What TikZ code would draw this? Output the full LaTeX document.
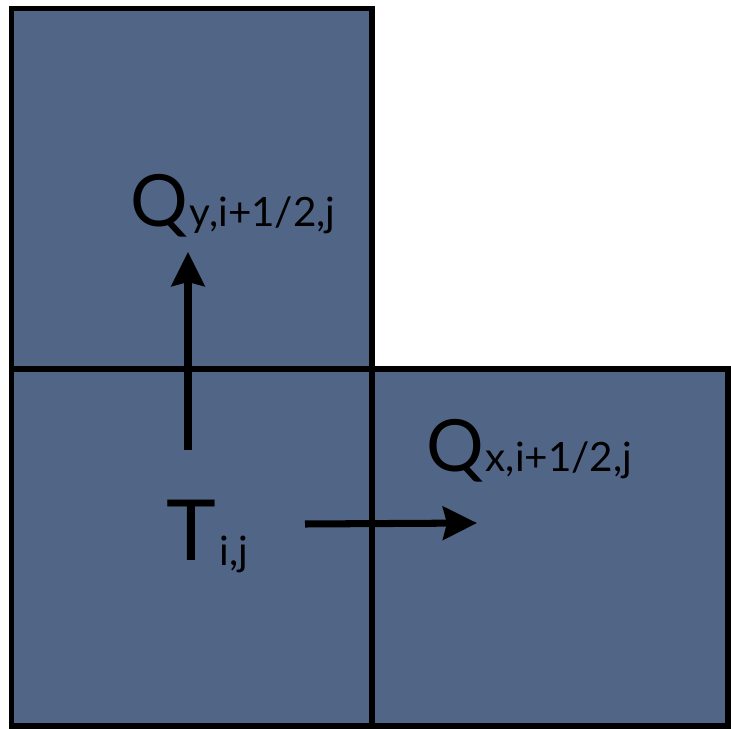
\documentclass[tikz,border=0pt]{standalone}
\usepackage{fontspec}
\setmainfont{Lato}
\usetikzlibrary{arrows.meta, positioning}
\definecolor{cellbg}{HTML}{516686}
\newcommand{\subsz}{\fontsize{23}{26}\selectfont}
\tikzset{
    cell/.style={
        draw=black, fill=cellbg, line width=2.9pt
    },
    label/.style={
        inner sep=0pt, anchor=base west, font=\fontsize{41}{45}\selectfont
    },
    flux/.style={
        -{Stealth[length=0.68cm, width=0.66cm, inset=0.08cm]}, line width=4pt
    }
}

\begin{document}
\begin{tikzpicture}[x=0.02cm, y=0.02cm]

    \useasboundingbox (0,0) rectangle (731,728);

    % grid cells
    \draw[cell] (11.5,359) rectangle (372,719.5);
    \draw[cell] (11.5,2)   rectangle (372,359);
    \draw[cell] (372,2)    rectangle (728,359);

    % labels
    \node[label] (qy)  at (130,501) {Q\kern1pt{\subsz y,i+1/2,j}};
    \node[label, font=\fontsize{48}{52}\selectfont] (tij) at (166,168) {T\kern2pt\raisebox{-0.1cm}{\subsz i,j}};
    \node[label] (qx)  at (426,256) {Q\kern1pt{\subsz x,i+1/2,j}};

    % flux arrows
    \coordinate (upfrom)    at (188,278);
    \coordinate (upto)      at (188,476);
    \coordinate (rightfrom) at (305,204);
    \coordinate (rightto)   at (477,205);

    \draw[flux] (upfrom)    -- (upto);
    \draw[flux] (rightfrom) -- (rightto);

\end{tikzpicture}
\end{document}
